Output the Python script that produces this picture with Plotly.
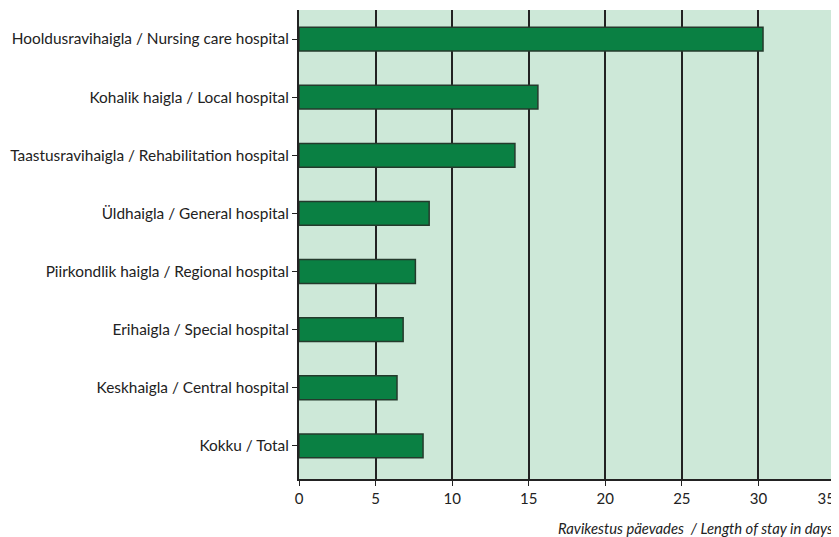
import plotly.graph_objects as go

categories = [
    "Kokku / Total",
    "Keskhaigla / Central hospital",
    "Erihaigla / Special hospital",
    "Piirkondlik haigla / Regional hospital",
    "Üldhaigla / General hospital",
    "Taastusravihaigla / Rehabilitation hospital",
    "Kohalik haigla / Local hospital",
    "Hooldusravihaigla / Nursing care hospital",
]
stay_days = [8.1, 6.4, 6.8, 7.6, 8.5, 14.1, 15.6, 30.3]
x_ticks = [0, 5, 10, 15, 20, 25, 30, 35]
# last label padded with invisible digits so it stays inside the page edge, as in the original
x_tick_text = ["0", "5", "10", "15", "20", "25", "30",
               "35<span style='color:rgba(0,0,0,0)'>00</span>"]

fig = go.Figure()
fig.add_trace(go.Bar(
    x=stay_days, y=categories, orientation="h",
    marker=dict(color="#0a8043", line=dict(color="#243a2c", width=1.5)),
    width=0.41,
))

# page body has an 8px margin, so the figure is sized to the visible area
fig.update_layout(
    width=831, height=529,
    margin=dict(l=291, r=4, t=2, b=58),
    paper_bgcolor="white", plot_bgcolor="#cde8d8",
    font=dict(family="Lato, sans-serif", size=15.4, color="#222"),
    showlegend=False,
    xaxis=dict(
        range=[0, 35], tickvals=x_ticks, ticktext=x_tick_text,
        showgrid=True, gridcolor="#222", gridwidth=1.5,
        zeroline=False, showline=True, linecolor="#222", linewidth=2, mirror=False,
        ticks="outside", ticklen=5, tickcolor="#222", tickfont=dict(size=15),
        ticklabeloverflow="allow", automargin=False,
    ),
    yaxis=dict(
        showgrid=False, showline=True, linecolor="#222", linewidth=2,
        ticks="outside", ticklen=5, tickcolor="#222", range=[-0.57, 7.5],
        automargin=False,
    ),
    shapes=[dict(type="line", xref="x", yref="paper", x0=35, x1=35, y0=0, y1=1,
                 line=dict(color="#222", width=3))],
    annotations=[dict(
        text="<i>Ravikestus päevades  / Length of stay in days</i>",
        xref="paper", yref="paper", x=1, y=-0.082, xanchor="right", yanchor="top",
        showarrow=False, font=dict(size=14.8, color="#222"),
    )],
)

fig.write_html("out.html")
